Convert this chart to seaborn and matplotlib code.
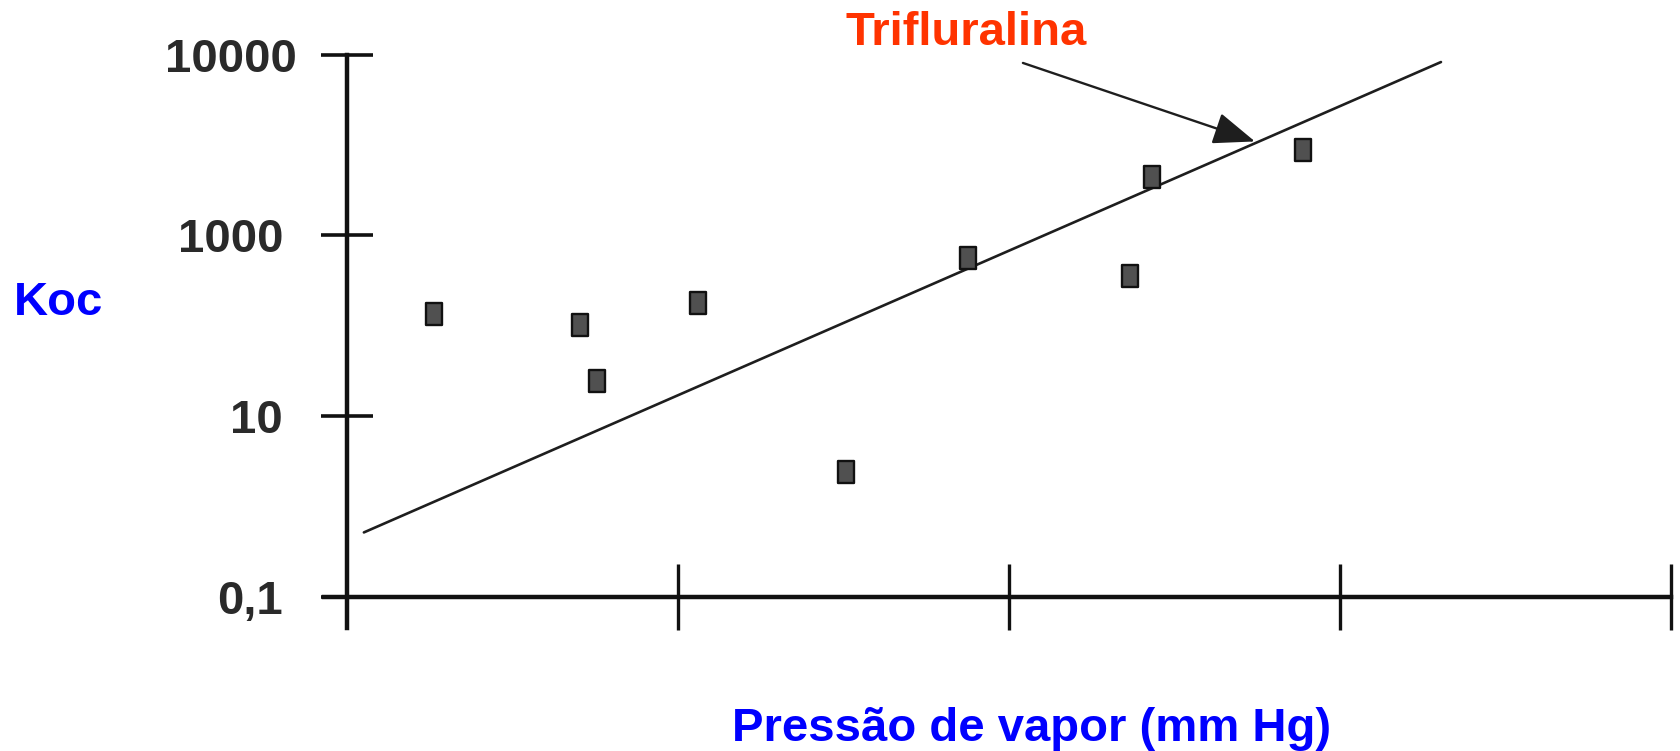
import numpy as np
import pandas as pd
import matplotlib
matplotlib.use("Agg")
import matplotlib.pyplot as plt
from matplotlib.path import Path
from matplotlib.markers import MarkerStyle
from matplotlib.transforms import ScaledTranslation
import seaborn as sns

# ---- data (positions in axis units: x = decade index of vapour pressure,
#      y = tick index on the Koc axis: 0 -> 0,1 ; 1 -> 10 ; 2 -> 1000 ; 3 -> 10000)
pest_x = [0.263, 0.703, 0.755, 1.059, 1.509, 1.875, 2.432, 2.366, 2.887]
pest_y = [1.566, 1.506, 1.192, 1.625, 0.687, 1.874, 2.325, 1.773, 2.474]
trend_x = [0.051, 3.305]
trend_y = [0.355, 2.961]
arrow_start = (2.042, 2.956)
arrow_tip = (2.743, 2.521)
ytick_pos = [0, 1, 2, 3]
ytick_labels = ["0,1", "10", "1000", "10000"]
xtick_pos = [1, 2, 3, 4]
title_text = "Trifluralina"
xlabel_text = "Pressão de vapor (mm Hg)"
ylabel_text = "Koc"

sns.set_style("white")
plt.rcParams["font.family"] = ["Liberation Sans", "DejaVu Sans"]

W, H = 1680, 751
fig = plt.figure(figsize=(W / 100, H / 100), dpi=100)
ax = fig.add_axes([0.14744, 0.13362, 0.85214, 0.81718])
ax.set_xlim(-0.3, 4.025)
ax.set_ylim(-0.3, 3.1)

df = pd.DataFrame({"x": pest_x, "y": pest_y})
rect = MarkerStyle(Path([(-0.33, -0.5), (0.33, -0.5), (0.33, 0.5), (-0.33, 0.5), (-0.33, -0.5)],
                        closed=True))
sns.lineplot(x=trend_x, y=trend_y, ax=ax, color="#1e1e1e", linewidth=1.9)
sns.scatterplot(data=df, x="x", y="y", ax=ax, marker=rect, s=270,
                color="#505050", edgecolor="#111111", linewidth=1.7, zorder=5)

ax.annotate("", xy=arrow_tip, xytext=arrow_start,
            arrowprops=dict(arrowstyle="-|>,head_length=1.3,head_width=0.5",
                            mutation_scale=20, color="#1e1e1e", lw=1.7,
                            facecolor="#4a4a4a", shrinkA=0, shrinkB=0))

# axes drawn like the hand-made original
for s in ["top", "right"]:
    ax.spines[s].set_visible(False)
ax.spines["left"].set_position(("data", 0))
ax.spines["bottom"].set_position(("data", 0))
ax.spines["left"].set_bounds(-0.173, 3)
ax.spines["bottom"].set_bounds(-0.07, 4)
for s in ["left", "bottom"]:
    ax.spines[s].set_linewidth(3.2)
    ax.spines[s].set_color("#111111")

ax.set_yticks(ytick_pos)
ax.set_yticklabels(ytick_labels)
ax.set_xticks(xtick_pos)
ax.set_xticklabels([])
ax.tick_params(axis="y", direction="inout", length=38, width=2.6, color="#111111",
               pad=27, labelsize=34, labelcolor="#2a2a2a", left=True)
ax.tick_params(axis="x", direction="inout", length=47, width=2.4, color="#111111",
               bottom=True)
for t in ax.get_yticklabels():
    t.set_fontweight("bold")
top_lab = ax.get_yticklabels()[3]
top_lab.set_transform(top_lab.get_transform() + ScaledTranslation(10 / 72, 0, fig.dpi_scale_trans))

ax.set_xlabel(xlabel_text, fontsize=34, fontweight="bold", color="#0000ff",
              va="baseline", ha="center")
ax.xaxis.set_label_coords(0.5472, -0.1472)
ax.set_ylabel(ylabel_text, fontsize=34, fontweight="bold", color="#0000ff",
              rotation=0, va="baseline", ha="left")
ax.yaxis.set_label_coords(-0.16324, 0.54693)

fig.text(846 / W, 1 - 45 / H, title_text, fontsize=34, fontweight="bold",
         color="#ff3300", ha="left", va="baseline")

fig.savefig("out.png", dpi=100, facecolor="white")
